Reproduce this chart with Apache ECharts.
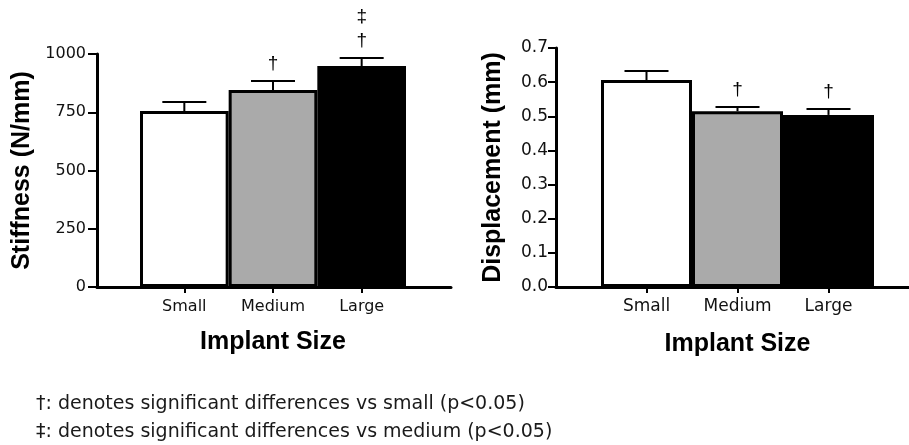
<!DOCTYPE html>
<html><head><meta charset="utf-8">
<script src="https://cdn.jsdelivr.net/npm/echarts@6/dist/echarts.min.js"></script>
<style>html,body{margin:0;padding:0;background:#fff}#c{width:909px;height:445px}</style>
</head><body><div id="c"></div>
<script>
const categories = ['Small', 'Medium', 'Large'];
const stiffness = [755, 845, 948];
const stiffnessSEM = [39, 39, 35];
const stiffnessMarks = ['', '†', '‡\n†'];
const displacement = [0.606, 0.515, 0.504];
const displacementSEM = [0.027, 0.012, 0.017];
const displacementMarks = ['', '†', '†'];
const stiffnessTicks = [0, 250, 500, 750, 1000];
const displacementTicks = [0.0, 0.1, 0.2, 0.3, 0.4, 0.5, 0.6, 0.7];
const barColors = ['#ffffff', '#aaaaaa', '#000000'];
const footnotes = ['†: denotes significant differences vs small (p<0.05)', '‡: denotes significant differences vs medium (p<0.05)'];

const FONT = '"Liberation Sans", Arial, sans-serif';
const WIDE = '"DejaVu Sans", Verdana, sans-serif';
const chart = echarts.init(document.getElementById('c'));

function errSeries(xi, yi, vals, sem, marks) {
  return {
    type: 'custom', xAxisIndex: xi, yAxisIndex: yi, z: 5,
    data: vals.map((v, i) => [i, v, v + sem[i], marks[i]]),
    renderItem: function (params, api) {
      const i = api.value(0);
      const top = api.coord([i, api.value(1)]);
      const e = api.coord([i, api.value(2)]);
      const half = 22;
      const children = [
        {type: 'line', shape: {x1: top[0], y1: top[1], x2: e[0], y2: e[1]}, style: {stroke: '#000', lineWidth: 2}},
        {type: 'line', shape: {x1: e[0] - half, y1: e[1], x2: e[0] + half, y2: e[1]}, style: {stroke: '#000', lineWidth: 2}}
      ];
      const m = marks[i];
      if (m) {
        children.push({type: 'text', x: e[0], y: e[1] - 5, style: {text: m, fontSize: 19, lineHeight: 24, fontFamily: FONT, fill: '#000', align: 'center', verticalAlign: 'bottom'}});
      }
      return {type: 'group', children: children};
    }
  };
}

const axisText = {color: '#111', fontFamily: WIDE, fontSize: 16};
const nameText = {color: '#000', fontFamily: FONT, fontSize: 25, fontWeight: 'bold'};

chart.setOption({
  animation: false,
  title: {
    text: footnotes.join('\n'), left: 31, top: 385,
    textStyle: {fontFamily: WIDE, fontSize: 19, fontWeight: 'normal', color: '#1a1a1a', lineHeight: 28}
  },
  grid: [
    {left: 97, top: 54, width: 354, height: 233},
    {left: 140, top: 54, width: 266, height: 233},
    {left: 556, top: 48, width: 360, height: 239},
    {left: 601, top: 48, width: 273, height: 239}
  ],
  xAxis: [
    {gridIndex: 0, type: 'value', min: 0, max: 1, axisLine: {lineStyle: {color: '#000', width: 3}}, axisTick: {show: false}, axisLabel: {show: false}, splitLine: {show: false}},
    {gridIndex: 1, type: 'category', data: categories, axisLine: {show: false},
     axisTick: {show: true, alignWithLabel: true, length: 6, lineStyle: {color: '#000', width: 2}},
     axisLabel: Object.assign({margin: 12}, axisText),
     name: 'Implant Size', nameLocation: 'middle', nameGap: 43, nameTextStyle: nameText},
    {gridIndex: 2, type: 'value', min: 0, max: 1, axisLine: {lineStyle: {color: '#000', width: 3}}, axisTick: {show: false}, axisLabel: {show: false}, splitLine: {show: false}},
    {gridIndex: 3, type: 'category', data: categories, axisLine: {show: false},
     axisTick: {show: true, alignWithLabel: true, length: 6, lineStyle: {color: '#000', width: 2}},
     axisLabel: Object.assign({margin: 11}, axisText, {fontSize: 17}),
     name: 'Implant Size', nameLocation: 'middle', nameGap: 45, nameTextStyle: nameText}
  ],
  yAxis: [
    {gridIndex: 0, type: 'value', min: stiffnessTicks[0], max: stiffnessTicks[stiffnessTicks.length - 1], interval: 250,
     axisLine: {show: true, lineStyle: {color: '#000', width: 3}},
     axisTick: {show: true, length: 9, lineStyle: {color: '#000', width: 2}},
     axisLabel: Object.assign({margin: 11, formatter: v => String(v)}, axisText), splitLine: {show: false},
     name: 'Stiffness (N/mm)', nameLocation: 'middle', nameRotate: 90, nameGap: 62, nameTextStyle: nameText},
    {gridIndex: 1, type: 'value', min: 0, max: 1000, show: false, splitLine: {show: false}},
    {gridIndex: 2, type: 'value', min: displacementTicks[0], max: displacementTicks[displacementTicks.length - 1], interval: 0.1,
     axisLine: {show: true, lineStyle: {color: '#000', width: 3}},
     axisTick: {show: true, length: 8, lineStyle: {color: '#000', width: 2}},
     axisLabel: Object.assign({margin: 8, formatter: v => v.toFixed(1)}, axisText, {fontSize: 17}), splitLine: {show: false},
     name: 'Displacement (mm)', nameLocation: 'middle', nameRotate: 90, nameGap: 50, nameTextStyle: nameText},
    {gridIndex: 3, type: 'value', min: 0, max: 0.7, show: false, splitLine: {show: false}}
  ],
  series: [
    {type: 'bar', xAxisIndex: 1, yAxisIndex: 1, barCategoryGap: 0,
     data: stiffness.map((v, i) => ({value: v, itemStyle: {color: barColors[i]}})),
     itemStyle: {borderColor: '#000', borderWidth: 3}},
    errSeries(1, 1, stiffness, stiffnessSEM, stiffnessMarks),
    {type: 'bar', xAxisIndex: 3, yAxisIndex: 3, barCategoryGap: 0,
     data: displacement.map((v, i) => ({value: v, itemStyle: {color: barColors[i]}})),
     itemStyle: {borderColor: '#000', borderWidth: 3}},
    errSeries(3, 3, displacement, displacementSEM, displacementMarks)
  ]
});
</script></body></html>
